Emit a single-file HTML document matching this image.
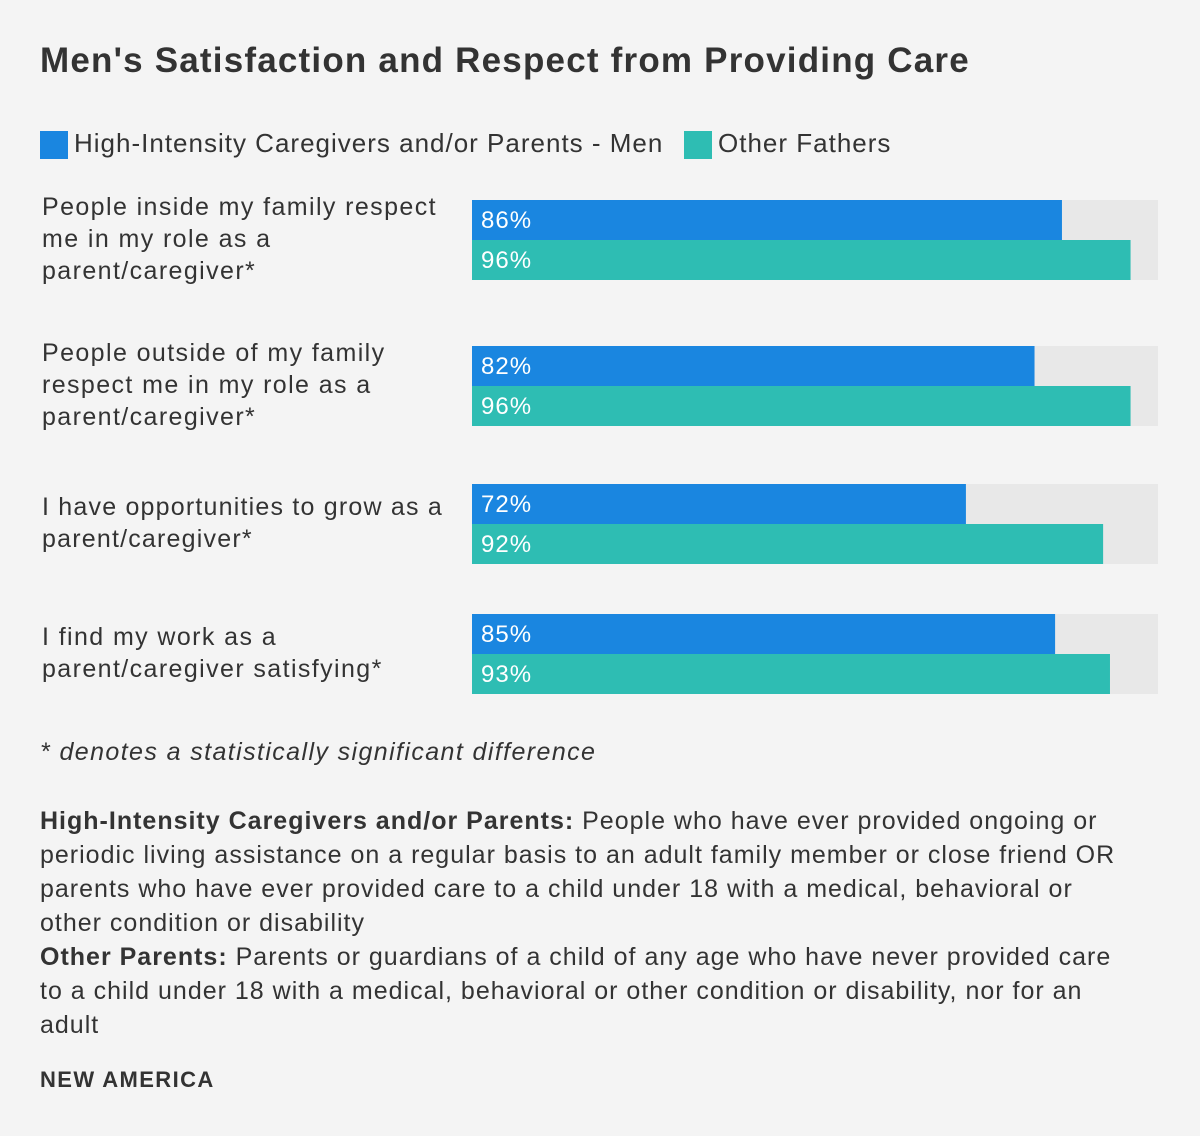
<!DOCTYPE html>
<html><head><meta charset="utf-8">
<style>
body{margin:0;background:#f4f4f4;font-family:"Liberation Sans",sans-serif;color:#333;}
#root{position:relative;width:1200px;height:1136px;overflow:hidden;background:#f4f4f4;}
.abs{position:absolute;}
h1{position:absolute;left:40px;top:41px;margin:0;font-size:35px;font-weight:bold;color:#333;letter-spacing:1.2px;}
.leg{position:absolute;top:128px;font-size:26px;color:#333;line-height:30px;letter-spacing:1px;white-space:nowrap;}
.sw{position:absolute;width:28px;height:28px;}
.lab{position:absolute;left:42px;font-size:25px;line-height:32px;color:#333;width:430px;letter-spacing:1.4px;white-space:nowrap;}
.foot{position:absolute;left:40px;font-size:25px;line-height:34px;color:#333;width:1150px;white-space:nowrap;}
</style></head><body>
<div id="root">
<h1>Men's Satisfaction and Respect from Providing Care</h1>
<div class="sw" style="left:40px;top:131px;background:#1a86e0"></div>
<div class="leg" style="left:74px">High-Intensity Caregivers and/or Parents - Men</div>
<div class="sw" style="left:684px;top:131px;background:#2ebdb3"></div>
<div class="leg" style="left:718px">Other Fathers</div>
<div class="lab" style="top:191px">People inside my family respect<br>me in my role as a<br>parent/caregiver*</div>
<div class="lab" style="top:337px">People outside of my family<br>respect me in my role as a<br>parent/caregiver*</div>
<div class="lab" style="top:491px;letter-spacing:1.2px">I have opportunities to grow as a<br>parent/caregiver*</div>
<div class="lab" style="top:621px">I find my work as a<br>parent/caregiver satisfying*</div>
<svg id="bars" class="abs" style="left:0;top:0" width="1200" height="1136"></svg>
<div class="foot" style="top:735px;font-style:italic;letter-spacing:1.4px">* denotes a statistically significant difference</div>
<div class="foot" style="top:804px;letter-spacing:1px"><b>High-Intensity Caregivers and/or Parents:</b> People who have ever provided ongoing or<br>periodic living assistance on a regular basis to an adult family member or close friend OR<br>parents who have ever provided care to a child under 18 with a medical, behavioral or<br>other condition or disability<br><b>Other Parents:</b> Parents or guardians of a child of any age who have never provided care<br>to a child under 18 with a medical, behavioral or other condition or disability, nor for an<br>adult</div>
<div class="abs" style="left:40px;top:1067px;font-size:22px;font-weight:bold;color:#333;letter-spacing:1.4px">NEW AMERICA</div>
</div>
<script>
const categories=["inside-family","outside-family","grow","satisfying"];
const highIntensity=[86,82,72,85];
const otherFathers=[96,96,92,93];
const groupTops=[200,346,484,614];
const x0=472, trackW=686, barH=40;
function xs(v){return v/100*trackW;}
const svg=document.getElementById('bars');
const NS='http://www.w3.org/2000/svg';
categories.forEach((c,i)=>{
  const t=document.createElementNS(NS,'rect');
  t.setAttribute('x',x0);t.setAttribute('y',groupTops[i]);t.setAttribute('width',trackW);t.setAttribute('height',barH*2);t.setAttribute('fill','#e8e8e8');
  
  
  svg.appendChild(t);
  [[highIntensity,'#1a86e0','high'],[otherFathers,'#2ebdb3','other']].forEach((s,j)=>{
    const y=groupTops[i]+j*barH;
    const r=document.createElementNS(NS,'rect');
    r.setAttribute('x',x0);r.setAttribute('y',y);r.setAttribute('width',xs(s[0][i]));r.setAttribute('height',barH);r.setAttribute('fill',s[1]);
    
    
    svg.appendChild(r);
    const tx=document.createElementNS(NS,'text');
    tx.setAttribute('x',x0+9);tx.setAttribute('y',y+28);tx.setAttribute('fill','#fff');tx.setAttribute('font-size','24');tx.setAttribute('letter-spacing','1');tx.setAttribute('font-family','Liberation Sans, sans-serif');
    tx.textContent=s[0][i]+'%';
    
    
    svg.appendChild(tx);
  });
});
</script>
</body></html>
